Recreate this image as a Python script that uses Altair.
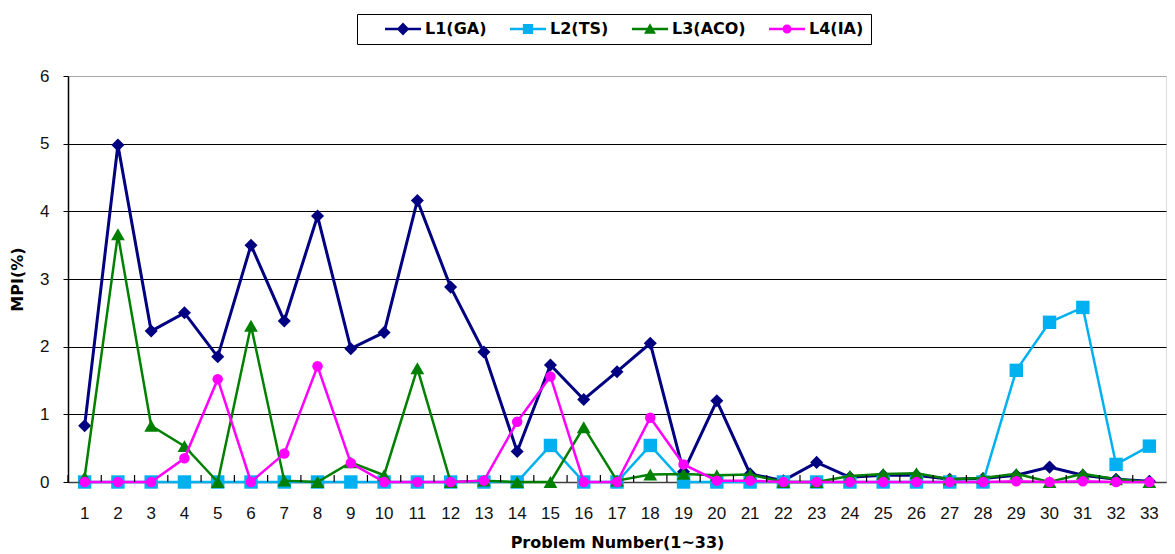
import altair as alt
import pandas as pd

problems = list(range(1, 34))
series_names = ["L1(GA)", "L2(TS)", "L3(ACO)", "L4(IA)"]

l1_ga = [0.83, 4.98, 2.23, 2.50, 1.85, 3.50, 2.38, 3.93, 1.97, 2.21,
         4.16, 2.88, 1.92, 0.45, 1.73, 1.22, 1.63, 2.05, 0.15, 1.20,
         0.12, 0.02, 0.29, 0.07, 0.10, 0.10, 0.04, 0.05, 0.10, 0.22,
         0.10, 0.04, 0.01]
l2_ts = [0.0, 0.0, 0.0, 0.0, 0.0, 0.0, 0.0, 0.0, 0.0, 0.0,
         0.0, 0.0, 0.0, 0.0, 0.54, 0.0, 0.0, 0.54, 0.0, 0.0,
         0.0, 0.0, 0.0, 0.0, 0.0, 0.0, 0.0, 0.0, 1.65, 2.36,
         2.58, 0.26, 0.53]
l3_aco = [0.07, 3.66, 0.83, 0.53, 0.0, 2.31, 0.02, 0.0, 0.29, 0.10,
          1.68, 0.0, 0.02, 0.0, 0.0, 0.81, 0.02, 0.11, 0.12, 0.10,
          0.11, 0.0, 0.0, 0.09, 0.12, 0.13, 0.04, 0.06, 0.12, 0.0,
          0.12, 0.04, 0.0]
l4_ia = [0.0, 0.0, 0.0, 0.35, 1.52, 0.0, 0.42, 1.71, 0.28, 0.0,
         0.0, 0.0, 0.02, 0.89, 1.56, 0.0, 0.0, 0.95, 0.26, 0.02,
         0.02, 0.0, 0.0, 0.0, 0.0, 0.0, 0.0, 0.0, 0.01, 0.0,
         0.01, 0.0, 0.0]

y_ticks = [0, 1, 2, 3, 4, 5, 6]

colors = ["#000080", "#00B0F0", "#008000", "#FF00FF"]
marker_shapes = ["diamond", "square", "triangle-up", "circle"]
marker_sizes = [170, 180, 190, 110]
line_widths = [3, 2.5, 2.5, 2.5]

rows = []
for name, vals in zip(series_names, [l1_ga, l2_ts, l3_aco, l4_ia]):
    for p, v in zip(problems, vals):
        rows.append({"problem": p, "series": name, "value": v})
df = pd.DataFrame(rows)
cat_df = pd.DataFrame({"problem": problems})

W, H = 1098, 406
FONT = "Liberation Sans"

x_scale = alt.Scale(type="band", paddingInner=0, paddingOuter=0)
color_scale = alt.Scale(domain=series_names, range=colors)

x_enc = alt.X(
    "problem:O",
    scale=x_scale,
    axis=alt.Axis(
        labelAngle=0, ticks=False, domainColor="#404040", domainWidth=1.5,
        labelPadding=23, labelFont=FONT, labelFontSize=17, labelColor="#111",
        title="Problem Number(1~33)", titleFont="DejaVu Sans", titleFontSize=16,
        titleFontWeight="bold", titleColor="#000", titlePadding=13,
    ),
)
y_enc = alt.Y(
    "value:Q",
    scale=alt.Scale(domain=[0, 6], nice=False),
    axis=alt.Axis(
        values=y_ticks, tickSize=5, tickColor="#000", domainColor="#000", domainWidth=1.5,
        labelPadding=14, labelFont=FONT, labelFontSize=17, labelColor="#111",
        gridColor={"condition": {"test": "datum.value === 6", "value": "#a8a8a8"}, "value": "#000000"},
        gridWidth=1, grid=True,
        title="MPI(%)", titleFont="DejaVu Sans", titleFontSize=16,
        titleFontWeight="bold", titleColor="#000", titlePadding=14,
    ),
)

layers = []
for i, name in enumerate(series_names):
    base = alt.Chart(df).transform_filter(alt.datum.series == name)
    line = base.mark_line(strokeWidth=line_widths[i], color=colors[i]).encode(
        x=x_enc, y=y_enc,
    )
    pts = base.mark_point(filled=True, opacity=1, shape=marker_shapes[i],
                          size=marker_sizes[i], color=colors[i]).encode(
        x=x_enc, y=y_enc,
    )
    layers += [line, pts]

# small inward ticks on the x axis, at the category boundaries
ticks_layer = alt.Chart(cat_df).mark_rule(color="#000", strokeWidth=1.2).encode(
    x=alt.X("problem:O", bandPosition=0, scale=x_scale),
    y=alt.value(H),
    y2=alt.value(H - 7),
)
layers.append(ticks_layer)

# legend symbols: a line segment with the series marker on it (all drawn clockwise)
seg = "M-3,-0.22H3V0.22H-3Z"
legend_paths = [
    seg + "M0,-1.1L1.05,0L0,1.1L-1.05,0Z",
    seg + "M-0.85,-0.85H0.85V0.85H-0.85Z",
    seg + "M0,-0.95L1,0.8H-1Z",
    seg + "M-0.75,0A0.75,0.75 0 1,1 0.75,0A0.75,0.75 0 1,1 -0.75,0Z",
]

# this layer draws nothing itself (all rows filtered out); it only carries the legend
legend_layer = alt.Chart(df).transform_filter("false").mark_point(filled=True, opacity=1).encode(
    x=x_enc, y=y_enc,
    color=alt.Color(
        "series:N", scale=color_scale,
        legend=alt.Legend(
            orient="none", legendX=289, legendY=-62, direction="horizontal",
            title=None, strokeColor="#000", padding=7,
            symbolSize=144, symbolOpacity=1, symbolStrokeWidth=0,
            symbolOffset=31,
            labelFont="DejaVu Sans", labelFontSize=16, labelFontWeight="bold",
            labelColor="#000", labelOffset=14, columnPadding=2,
        ),
    ),
    shape=alt.Shape("series:N", scale=alt.Scale(domain=series_names, range=legend_paths)),
)
layers.append(legend_layer)

chart = alt.layer(*layers).properties(
    width=W, height=H,
    autosize=alt.AutoSizeParams(type="none"),
    padding={"left": 60, "top": 68, "right": 1, "bottom": 70},
).configure_view(stroke="#a8a8a8", strokeWidth=1.5).configure(background="white")

chart.save("out.html", embed_options={"renderer": "svg", "actions": False})
